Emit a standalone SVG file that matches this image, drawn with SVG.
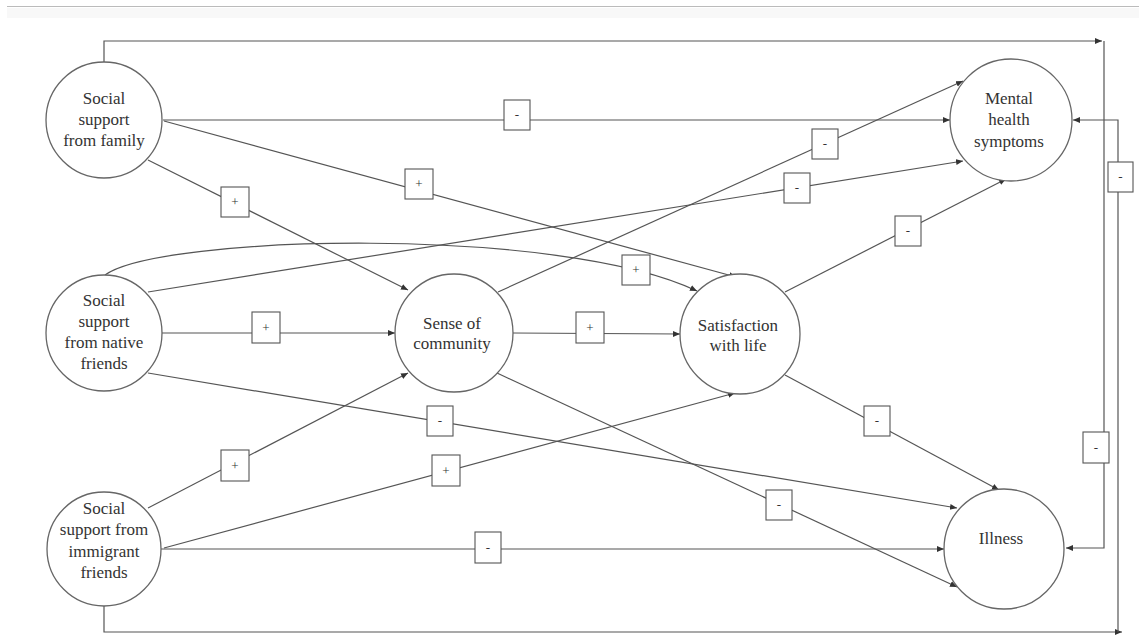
<svg xmlns="http://www.w3.org/2000/svg" width="1139" height="635" viewBox="0 0 1139 635">
<defs>
<style>
.n circle{fill:#fff;stroke:#666;stroke-width:1.3}
.n text{font-family:"Liberation Serif","Times New Roman",serif;font-size:17px;fill:#333;text-anchor:middle}
.c path{fill:none;stroke:#555;stroke-width:1.2}
.lb rect{fill:#fff;stroke:#555;stroke-width:1.1}
.lb text{font-family:"Liberation Serif","Times New Roman",serif;font-size:13px;fill:#333;text-anchor:middle}
</style>
<marker id="ah" markerWidth="8" markerHeight="8" refX="7" refY="4" orient="auto" markerUnits="userSpaceOnUse">
<path d="M0,1 L7,4 L0,7 Z" fill="#333"/>
</marker>
</defs>
<rect x="0" y="0" width="1139" height="635" fill="#fff"/>
<rect x="7" y="8" width="1132" height="10" fill="#f8f8f8"/>
<line x1="7" y1="6.5" x2="1139" y2="6.5" stroke="#bbb" stroke-width="1"/>

<g id="connectors" class="c">
<path d="M104,62 V41 H1102" marker-end="url(#ah)"/>
<path d="M1104,41 V548 H1066" marker-end="url(#ah)"/>
<path d="M104,605 V632 H1122" marker-end="url(#ah)"/>
<path d="M1118,632 V120 H1073" marker-end="url(#ah)"/>
<path d="M163,120 H950" marker-end="url(#ah)"/>
<path d="M148,160 L408,290" marker-end="url(#ah)"/>
<path d="M164,121 L736,277" marker-end="url(#ah)"/>
<path d="M148,292 L963,161" marker-end="url(#ah)"/>
<path d="M105,275 C160,235 560,225 697,291" marker-end="url(#ah)"/>
<path d="M162,333 H395" marker-end="url(#ah)"/>
<path d="M148,373 L957,508" marker-end="url(#ah)"/>
<path d="M148,508 L408,373" marker-end="url(#ah)"/>
<path d="M164,548 L735,393" marker-end="url(#ah)"/>
<path d="M161,549 H944" marker-end="url(#ah)"/>
<path d="M498,292 L963,81" marker-end="url(#ah)"/>
<path d="M513,333 L680,334" marker-end="url(#ah)"/>
<path d="M497,373 L957,587" marker-end="url(#ah)"/>
<path d="M785,292 L1006,179" marker-end="url(#ah)"/>
<path d="M785,375 L999,490" marker-end="url(#ah)"/>
</g>

<g id="labels" class="lb">
<g><rect x="221" y="187" width="28" height="30"/><text x="235" y="206">+</text></g>
<g><rect x="504" y="100" width="26" height="30"/><text x="517" y="119">-</text></g>
<g><rect x="405" y="169" width="28" height="30"/><text x="419" y="188">+</text></g>
<g><rect x="812" y="129" width="26" height="30"/><text x="825" y="148">-</text></g>
<g><rect x="784" y="173" width="26" height="30"/><text x="797" y="192">-</text></g>
<g><rect x="622" y="255" width="28" height="30"/><text x="636" y="274">+</text></g>
<g><rect x="895" y="216" width="26" height="30"/><text x="908" y="235">-</text></g>
<g><rect x="1108" y="162" width="25" height="30"/><text x="1120.5" y="181">-</text></g>
<g><rect x="252" y="312" width="28" height="31"/><text x="266" y="332">+</text></g>
<g><rect x="576" y="312" width="28" height="31"/><text x="590" y="332">+</text></g>
<g><rect x="427" y="406" width="26" height="30"/><text x="440" y="425">-</text></g>
<g><rect x="864" y="406" width="26" height="30"/><text x="877" y="425">-</text></g>
<g><rect x="221" y="450" width="28" height="31"/><text x="235" y="470">+</text></g>
<g><rect x="432" y="455" width="28" height="31"/><text x="446" y="475">+</text></g>
<g><rect x="766" y="490" width="26" height="30"/><text x="779" y="509">-</text></g>
<g><rect x="475" y="532" width="26" height="31"/><text x="488" y="552">-</text></g>
<g><rect x="1083" y="432" width="26" height="31"/><text x="1096" y="452">-</text></g>
</g>

<g id="family" class="n"><circle cx="104" cy="120" r="58"/>
<text x="104" y="104">Social</text><text x="104" y="125">support</text><text x="104" y="146">from family</text></g>
<g id="native" class="n"><circle cx="104" cy="333" r="58"/>
<text x="104" y="306">Social</text><text x="104" y="327">support</text><text x="104" y="348">from native</text><text x="104" y="369">friends</text></g>
<g id="immigrant" class="n"><circle cx="104" cy="549" r="57"/>
<text x="104" y="514">Social</text><text x="104" y="535">support from</text><text x="104" y="557">immigrant</text><text x="104" y="578">friends</text></g>
<g id="community" class="n"><circle cx="454" cy="333" r="59"/>
<text x="452" y="329">Sense of</text><text x="452" y="349">community</text></g>
<g id="satisfaction" class="n"><circle cx="740" cy="334" r="60"/>
<text x="738" y="331">Satisfaction</text><text x="738" y="351">with life</text></g>
<g id="mental" class="n"><circle cx="1011" cy="120" r="61"/>
<text x="1009" y="104">Mental</text><text x="1009" y="125">health</text><text x="1009" y="147">symptoms</text></g>
<g id="illness" class="n"><circle cx="1004" cy="549" r="60"/>
<text x="1001" y="544">Illness</text></g>
</svg>
